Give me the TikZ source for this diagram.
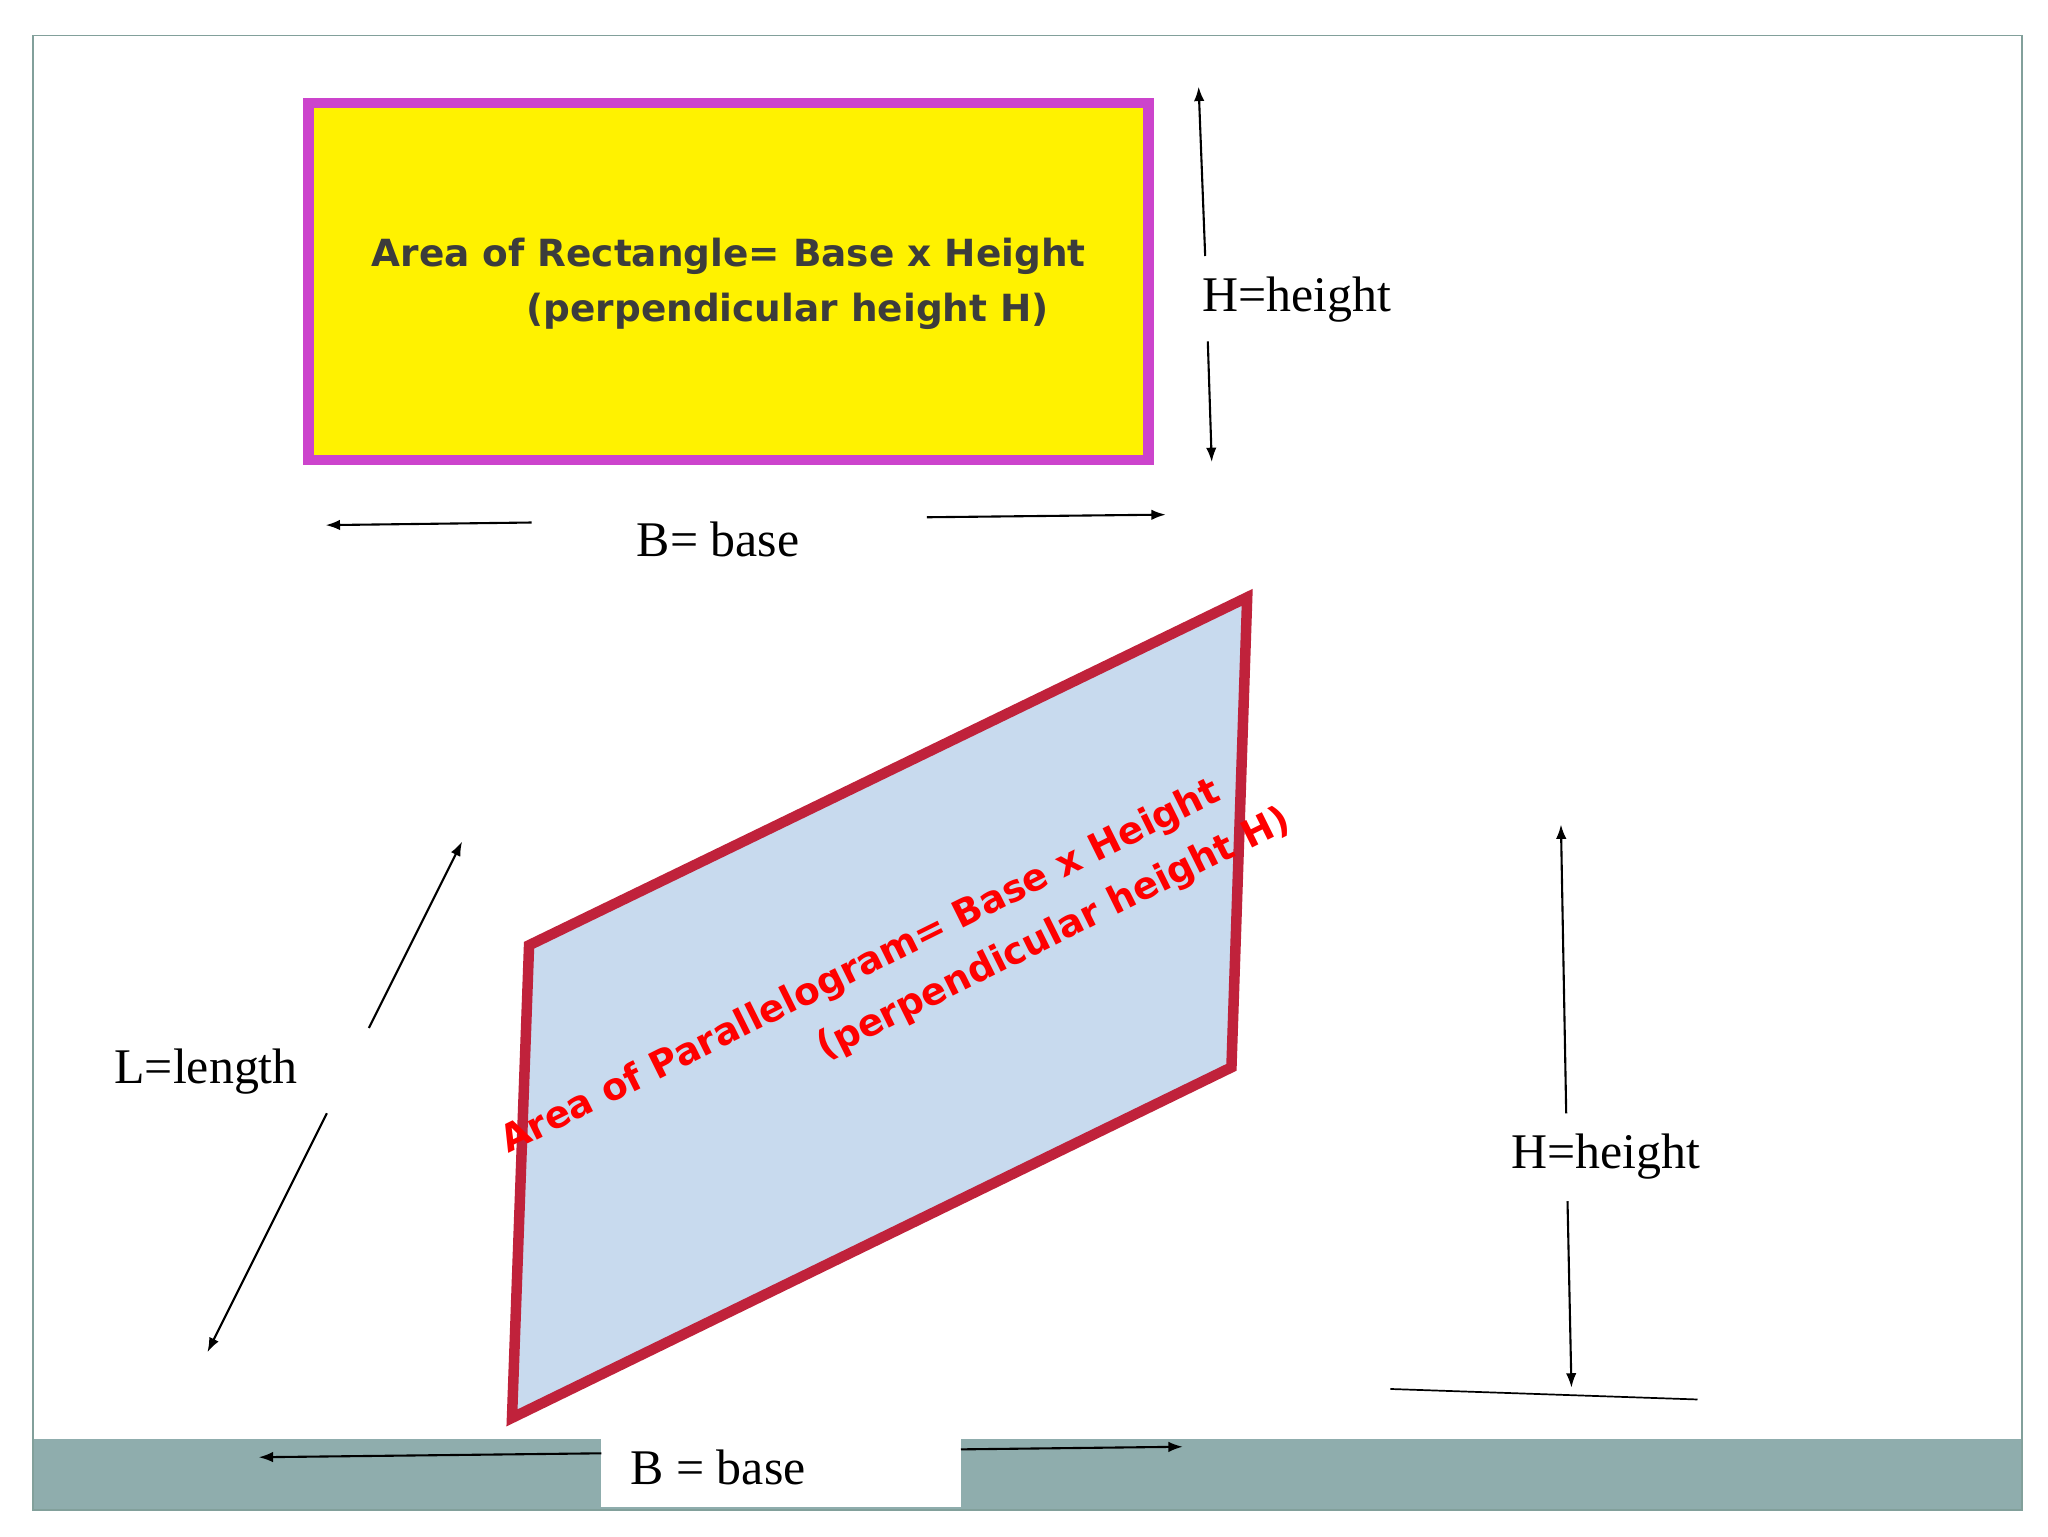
\documentclass[tikz,border=0pt]{standalone}
\usepackage{fontspec}
\usetikzlibrary{arrows.meta}
\setmainfont{Liberation Serif}
\newfontfamily\boldsans{DejaVu Sans}
\begin{document}
\begin{tikzpicture}[x=1pt,y=-1pt,
  arr/.style={-{Latex[length=11pt,width=8pt]},line width=1.6pt},
  lbl/.style={font=\fontsize{38}{44}\selectfont,inner sep=0pt},
  bt/.style={font=\boldsans\bfseries\fontsize{28.5}{34}\selectfont,inner sep=0pt}]
\useasboundingbox (0,0) rectangle (1560,1170);
\fill[white] (0,0) rectangle (1560,1170);
\fill[fill={rgb,255:red,143;green,173;blue,173}] (25,1096) rectangle (1540,1150);
\draw[draw={rgb,255:red,130;green,160;blue,155},line width=1.2pt] (25,27) rectangle (1540,1150);
\node[fill=white,minimum width=274pt,minimum height=52pt,inner sep=0pt] (bb) at (595,1122) {};
\node[lbl] (blbl) at (547,1118) {B = base};
% rectangle
\node[draw={rgb,255:red,204;green,68;blue,204},fill=yellow,line width=8pt,minimum width=640pt,minimum height=272pt,inner sep=0pt] (rect) at (555,214.5) {};
\node[bt,text={rgb,255:red,60;green,60;blue,60}] (rt1) at (555,195) {Area of Rectangle= Base x Height};
\node[bt,text={rgb,255:red,60;green,60;blue,60}] (rt2) at (600,237) {(perpendicular height H)};
\node[lbl] (h1) at (988,228) {H=height};
\coordinate (h1a) at (918,195); \coordinate (h1b) at (913,66);
\coordinate (h1c) at (920,260); \coordinate (h1d) at (923,352);
\draw[arr] (h1a) -- (h1b); \draw[arr] (h1c) -- (h1d);
\node[lbl] (b1) at (547,411) {B= base};
\coordinate (b1a) at (405,398); \coordinate (b1b) at (248,400);
\coordinate (b1c) at (706,394); \coordinate (b1d) at (888,392);
\draw[arr] (b1a) -- (b1b); \draw[arr] (b1c) -- (b1d);
% parallelogram
\coordinate (p1) at (403,720); \coordinate (p2) at (950,455);
\coordinate (p3) at (938,813); \coordinate (p4) at (390,1080);
\draw[draw={rgb,255:red,192;green,34;blue,59},fill={rgb,255:red,200;green,218;blue,238},line width=8pt,line join=miter] (p1) -- (p2) -- (p3) -- (p4) -- cycle;
\node[bt,text=red,rotate=26.4] (pt1) at (656,737) {Area of Parallelogram= Base x Height};
\node[bt,text=red,rotate=26.4] (pt2) at (803,712) {(perpendicular height H)};
% L
\node[lbl] (l) at (157,816) {L=length};
\coordinate (la) at (281,783); \coordinate (lb) at (352,641);
\coordinate (lc) at (249,848); \coordinate (ld) at (158,1030);
\draw[arr] (la) -- (lb); \draw[arr] (lc) -- (ld);
% H right
\node[lbl] (h2) at (1223,881) {H=height};
\coordinate (h2a) at (1193,848); \coordinate (h2b) at (1189,628);
\coordinate (h2c) at (1194,915); \coordinate (h2d) at (1197,1057);
\draw[arr] (h2a) -- (h2b); \draw[arr] (h2c) -- (h2d);
\coordinate (g1) at (1059,1058); \coordinate (g2) at (1293,1066);
\draw[line width=1.3pt] (g1) -- (g2);
% bottom base
\coordinate (b2a) at (458,1107); \coordinate (b2b) at (197,1110);
\coordinate (b2c) at (732,1104); \coordinate (b2d) at (901,1102);
\draw[arr] (b2a) -- (b2b); \draw[arr] (b2c) -- (b2d);
\end{tikzpicture}
\end{document}
